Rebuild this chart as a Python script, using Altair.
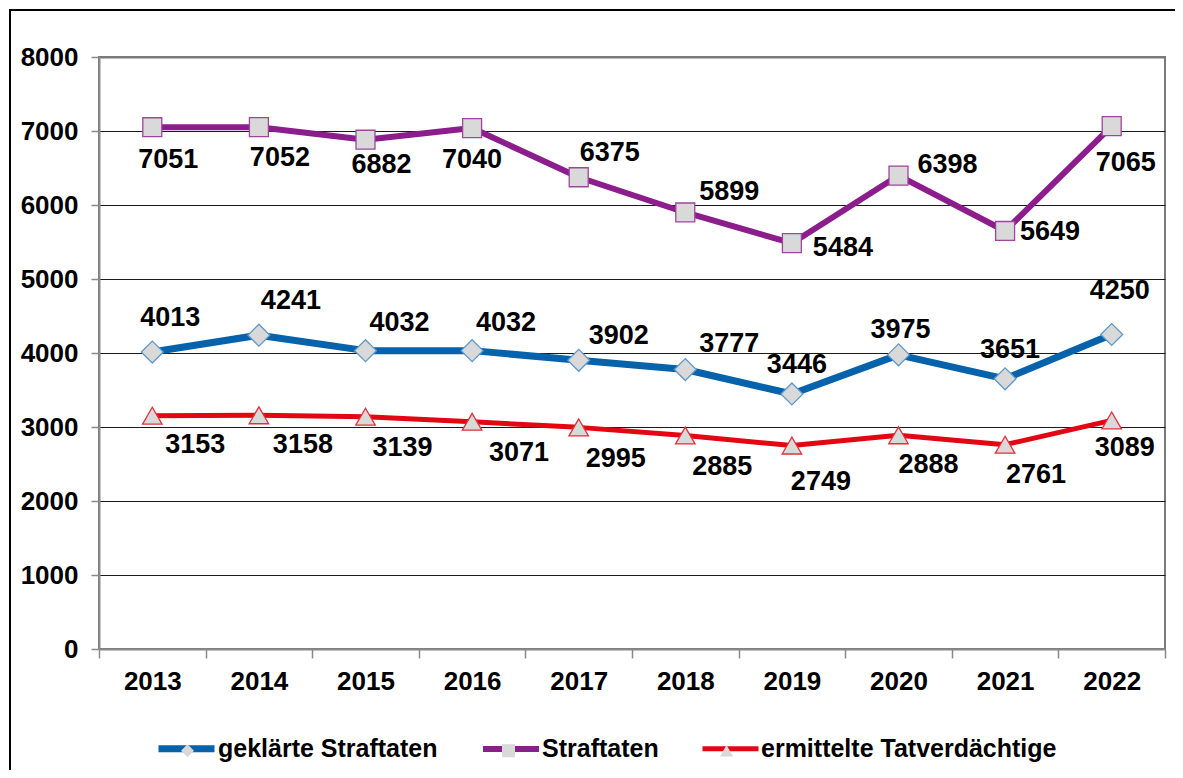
import altair as alt
import pandas as pd

# ---------------- data ----------------
years = ["2013", "2014", "2015", "2016", "2017", "2018", "2019", "2020", "2021", "2022"]
series_names = ["geklärte Straftaten", "Straftaten", "ermittelte Tatverdächtige"]

geklaerte = [4013, 4241, 4032, 4032, 3902, 3777, 3446, 3975, 3651, 4250]
straftaten = [7051, 7052, 6882, 7040, 6375, 5899, 5484, 6398, 5649, 7065]
tatverdaechtige = [3153, 3158, 3139, 3071, 2995, 2885, 2749, 2888, 2761, 3089]

y_ticks = [0, 1000, 2000, 3000, 4000, 5000, 6000, 7000, 8000]

# label placement (pixel offsets of each value label from its point)
label_dx_geklaerte = [18, 32, 34, 34, 40, 44, 5, 2, 5, 8]
label_dy_geklaerte = [-34, -34, -28, -28, -24, -26, -29, -25, -29, -44]
label_dx_straftaten = [16, 21, 16, 0, 31, 44, 51, 49, 45, 14]
label_dy_straftaten = [33, 31, 25, 32, -24, -20, 5, -11, 1, 37]
label_dx_tatverd = [43, 44, 37, 47, 37, 37, 29, 30, 31, 13]
label_dy_tatverd = [29, 30, 31, 31, 32, 31, 36, 30, 30, 28]

# ---------------- styles ----------------
line_colors = ["#0562ab", "#8c1d8c", "#e30613"]
marker_strokes = ["#5f98c8", "#a0449f", "#e0303a"]
marker_shapes = ["diamond", "square", "triangle-up"]
marker_sizes = [480, 360, 380]
line_widths = [7, 5, 5]
FONT = "Liberation Sans"

series_values = [geklaerte, straftaten, tatverdaechtige]
label_dx = [label_dx_geklaerte, label_dx_straftaten, label_dx_tatverd]
label_dy = [label_dy_geklaerte, label_dy_straftaten, label_dy_tatverd]

# marker key gets a trailing space so the marker legend stays separate
marker_names = [s + " " for s in series_names]

rows = []
for s, m, vals in zip(series_names, marker_names, series_values):
    for y, v in zip(years, vals):
        rows.append({"year": y, "series": s, "marker": m, "value": v,
                     "label": str(v), "key": f"{s}|{y}"})
df = pd.DataFrame(rows)

base = alt.Chart(df)

x_enc = alt.X(
    "year:N", sort=years, title=None,
    scale=alt.Scale(type="band", paddingInner=0, paddingOuter=0),
    axis=alt.Axis(
        tickBand="extent", labelAngle=0, labelFont=FONT, labelFontSize=26,
        labelFontWeight="bold", labelColor="#000", labelPadding=10,
        domainColor="#8a8a8a", domainWidth=2, tickColor="#8a8a8a",
        tickSize=9, tickWidth=1.5, grid=False,
    ),
)
y_enc = alt.Y(
    "value:Q", title=None,
    scale=alt.Scale(domain=[0, 8000], nice=False),
    axis=alt.Axis(
        values=y_ticks, format="d", labelFont=FONT, labelFontSize=26,
        labelFontWeight="bold", labelColor="#000", labelPadding=13,
        domainColor="#8a8a8a", domainWidth=2, tickColor="#8a8a8a",
        tickSize=8, tickWidth=1.5, grid=True,
        gridColor=alt.condition("datum.value === 8000 || datum.value === 0",
                                alt.value("#7a7a7a"), alt.value("#1a1a1a")),
        gridWidth=alt.condition("datum.value === 8000",
                                alt.value(2), alt.value(1)),
    ),
)

legend_common = dict(
    orient="none", legendX=56, direction="horizontal",
    title=None, labelFont=FONT, labelFontSize=25, labelFontWeight="bold",
    columnPadding=33, labelLimit=0,
)

lines = base.mark_line(strokeCap="round", strokeJoin="round").encode(
    x=x_enc,
    y=y_enc,
    color=alt.Color(
        "series:N",
        scale=alt.Scale(domain=series_names, range=line_colors),
        legend=alt.Legend(
            legendY=660, symbolType="stroke", symbolSize=3136,
            symbolStrokeWidth=7, labelColor="#000", labelOffset=0,
            symbolOpacity=1, **legend_common,
        ),
    ),
    strokeWidth=alt.StrokeWidth(
        "series:N",
        scale=alt.Scale(domain=series_names, range=line_widths),
        legend=None,
    ),
)

shape_scale = alt.Scale(domain=marker_names, range=marker_shapes)
shape_legend = alt.Legend(
    legendY=681, symbolSize=170, symbolFillColor="#d9d9d9",
    symbolStrokeColor="#7f7f7f", symbolStrokeWidth=1, symbolOffset=20,
    labelOffset=23, labelOpacity=0, labelExpr="trim(datum.label)",
    **legend_common,
)

point_layers = []
for s, stroke, size in zip(series_names, marker_strokes, marker_sizes):
    point_layers.append(
        base.transform_filter(alt.datum.series == s)
        .mark_point(filled=True, fill="#d9d9d9", stroke=stroke,
                    strokeWidth=1.3, size=size, opacity=1)
        .encode(x=x_enc, y=y_enc,
                shape=alt.Shape("marker:N", scale=shape_scale, legend=shape_legend))
    )

text_layers = []
for s, dxs, dys in zip(series_names, label_dx, label_dy):
    for y, dx, dy in zip(years, dxs, dys):
        text_layers.append(
            base.transform_filter(alt.datum.key == f"{s}|{y}")
            .mark_text(font=FONT, fontSize=27, fontWeight="bold", color="#000",
                       align="center", baseline="middle", dx=dx, dy=dy)
            .encode(x=x_enc, y=y_enc, text="label:N")
        )

# outer chart frame (left and top edges only, as in the picture)
frame_left = alt.Chart(alt.Data(values=[{"f": 1}])).mark_rule(
    color="#000", strokeWidth=2
).encode(x=alt.value(-89), y=alt.value(-48), y2=alt.value(713))
frame_top = alt.Chart(alt.Data(values=[{"f": 1}])).mark_rule(
    color="#000", strokeWidth=2
).encode(x=alt.value(-90), x2=alt.value(1076), y=alt.value(-47))

chart = alt.layer(frame_left, frame_top, lines, *point_layers, *text_layers).properties(
    width=1066, height=592,
    autosize=alt.AutoSizeParams(type="none"),
    padding={"left": 91, "top": 49, "right": 10, "bottom": 121},
    background="#ffffff",
).configure_view(
    stroke="#7a7a7a", strokeWidth=2
)

chart.save("out.html", embed_options={"renderer": "svg", "actions": False})
